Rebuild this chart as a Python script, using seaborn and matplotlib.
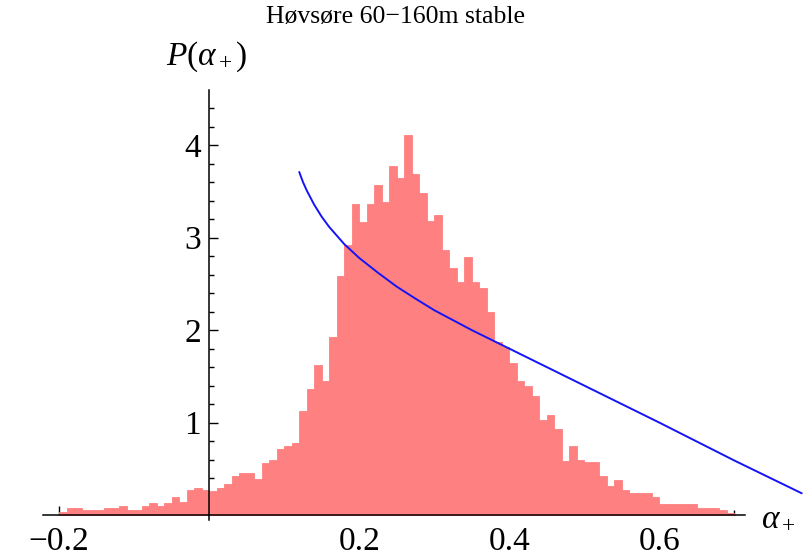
import numpy as np
import pandas as pd
import seaborn as sns
import matplotlib
matplotlib.use("Agg")
import matplotlib.pyplot as plt
from matplotlib.ticker import FixedLocator

# ---------------- data ----------------
title = "Høvsøre 60\u2212160m stable"
bin_start = -0.20
bin_width = 0.01
heights = [
    # -0.20 .. -0.01
    0.036, 0.08, 0.08, 0.054, 0.054, 0.054, 0.08, 0.08, 0.097, 0.054,
    0.054, 0.097, 0.126, 0.10, 0.126, 0.19, 0.144, 0.27, 0.29, 0.27,
    # 0.00 .. 0.19
    0.26, 0.29, 0.335, 0.425, 0.45, 0.45, 0.386, 0.566, 0.595, 0.71,
    0.75, 0.775, 1.13, 1.36, 1.62, 1.45, 1.92, 2.59, 2.92, 3.36,
    # 0.20 .. 0.39
    3.17, 3.36, 3.57, 3.39, 3.78, 3.64, 4.11, 3.69, 3.48, 3.18,
    3.24, 2.87, 2.67, 2.52, 2.79, 2.52, 2.45, 2.20, 1.87, 1.82,
    # 0.40 .. 0.59
    1.64, 1.45, 1.39, 1.29, 1.03, 1.08, 0.93, 0.58, 0.75, 0.59,
    0.57, 0.57, 0.42, 0.31, 0.38, 0.27, 0.24, 0.24, 0.24, 0.19,
    # 0.60 .. 0.69
    0.12, 0.12, 0.12, 0.12, 0.12, 0.08, 0.08, 0.08, 0.05, 0.02,
]
curve_x = [0.120, 0.125, 0.130, 0.140, 0.150, 0.160, 0.180, 0.200, 0.225,
           0.250, 0.275, 0.300, 0.350, 0.400, 0.500, 0.600, 0.700, 0.790]
curve_y = [3.71, 3.60, 3.51, 3.355, 3.225, 3.115, 2.93, 2.78, 2.62,
           2.47, 2.34, 2.215, 2.00, 1.80, 1.40, 1.00, 0.59, 0.235]
x_major = [-0.2, 0.2, 0.4, 0.6]
x_major_labels = ["\u22120.2", "0.2", "0.4", "0.6"]
x_minor = [-0.15, -0.1, -0.05, 0.05, 0.1, 0.15, 0.25, 0.3, 0.35,
           0.45, 0.5, 0.55, 0.65, 0.7]
y_major = [1, 2, 3, 4]
y_major_labels = ["1", "2", "3", "4"]
y_minor = [0.2, 0.4, 0.6, 0.8, 1.2, 1.4, 1.6, 1.8, 2.2, 2.4, 2.6, 2.8,
           3.2, 3.4, 3.6, 3.8, 4.2, 4.4]

# ---------------- style ----------------
sns.set_theme(style="white")
plt.rcParams["font.family"] = ["Liberation Serif", "DejaVu Serif"]
plt.rcParams["mathtext.fontset"] = "custom"
plt.rcParams["mathtext.rm"] = "Liberation Serif"
plt.rcParams["mathtext.it"] = "Liberation Serif:italic"
plt.rcParams["mathtext.bf"] = "Liberation Serif:bold"

fig = plt.figure(figsize=(8.1, 5.57), dpi=100)
ax = fig.add_axes([0, 0, 1, 1])

hist_color = "#FF8080"
n = len(heights)
edges = [float(v) for v in (bin_start + np.arange(n + 1) * bin_width)]
df = pd.DataFrame({"alpha": bin_start + (np.arange(n) + 0.5) * bin_width,
                   "density": heights})
sns.histplot(data=df, x="alpha", weights="density", bins=edges,
             element="bars", fill=True, color=hist_color, alpha=1,
             edgecolor=hist_color, linewidth=0.6, ax=ax)
sns.lineplot(x=curve_x, y=curve_y, color="#1414F5", linewidth=1.4,
             sort=False, ax=ax)

ax.set_xlim(-0.279, 0.801)
ax.set_ylim(-0.454, 5.57)
ax.set_xlabel("")
ax.set_ylabel("")
ax.grid(False)
ax.patch.set_alpha(0)

for s in ["top", "right"]:
    ax.spines[s].set_visible(False)
for s in ["left", "bottom"]:
    ax.spines[s].set_position(("data", 0))
    ax.spines[s].set_color("black")
    ax.spines[s].set_linewidth(1.1)
    ax.spines[s].set_zorder(5)
ax.spines["bottom"].set_bounds(-0.222, 0.715)
ax.spines["left"].set_bounds(-0.05, 4.6)

ax.xaxis.set_major_locator(FixedLocator(x_major))
ax.set_xticklabels(x_major_labels)
ax.xaxis.set_minor_locator(FixedLocator(x_minor))
ax.yaxis.set_major_locator(FixedLocator(y_major))
ax.set_yticklabels(y_major_labels)
ax.yaxis.set_minor_locator(FixedLocator(y_minor))

ax.tick_params(axis="both", which="major", direction="in", length=6.5,
               width=1.0, color="black", labelsize=24, labelcolor="black")
ax.tick_params(axis="both", which="minor", direction="in", length=3.6,
               width=1.0, color="black")
ax.tick_params(axis="x", which="major", pad=8, bottom=True)
ax.tick_params(axis="y", which="major", pad=6, left=True)
ax.tick_params(axis="x", which="minor", bottom=True)
ax.tick_params(axis="y", which="minor", left=True)

fig.text(395 / 810, 1 - 17 / 557, title, fontsize=18.5, ha="center",
         va="center", color="black")
fig.text(207 / 810, 1 - 57 / 557, r"$P(\alpha_+)$", fontsize=24,
         ha="center", va="center", color="black")
fig.text(778 / 810, 1 - 518 / 557, r"$\alpha_+$", fontsize=24,
         ha="center", va="center", color="black")

fig.savefig("out.png", dpi=100)
